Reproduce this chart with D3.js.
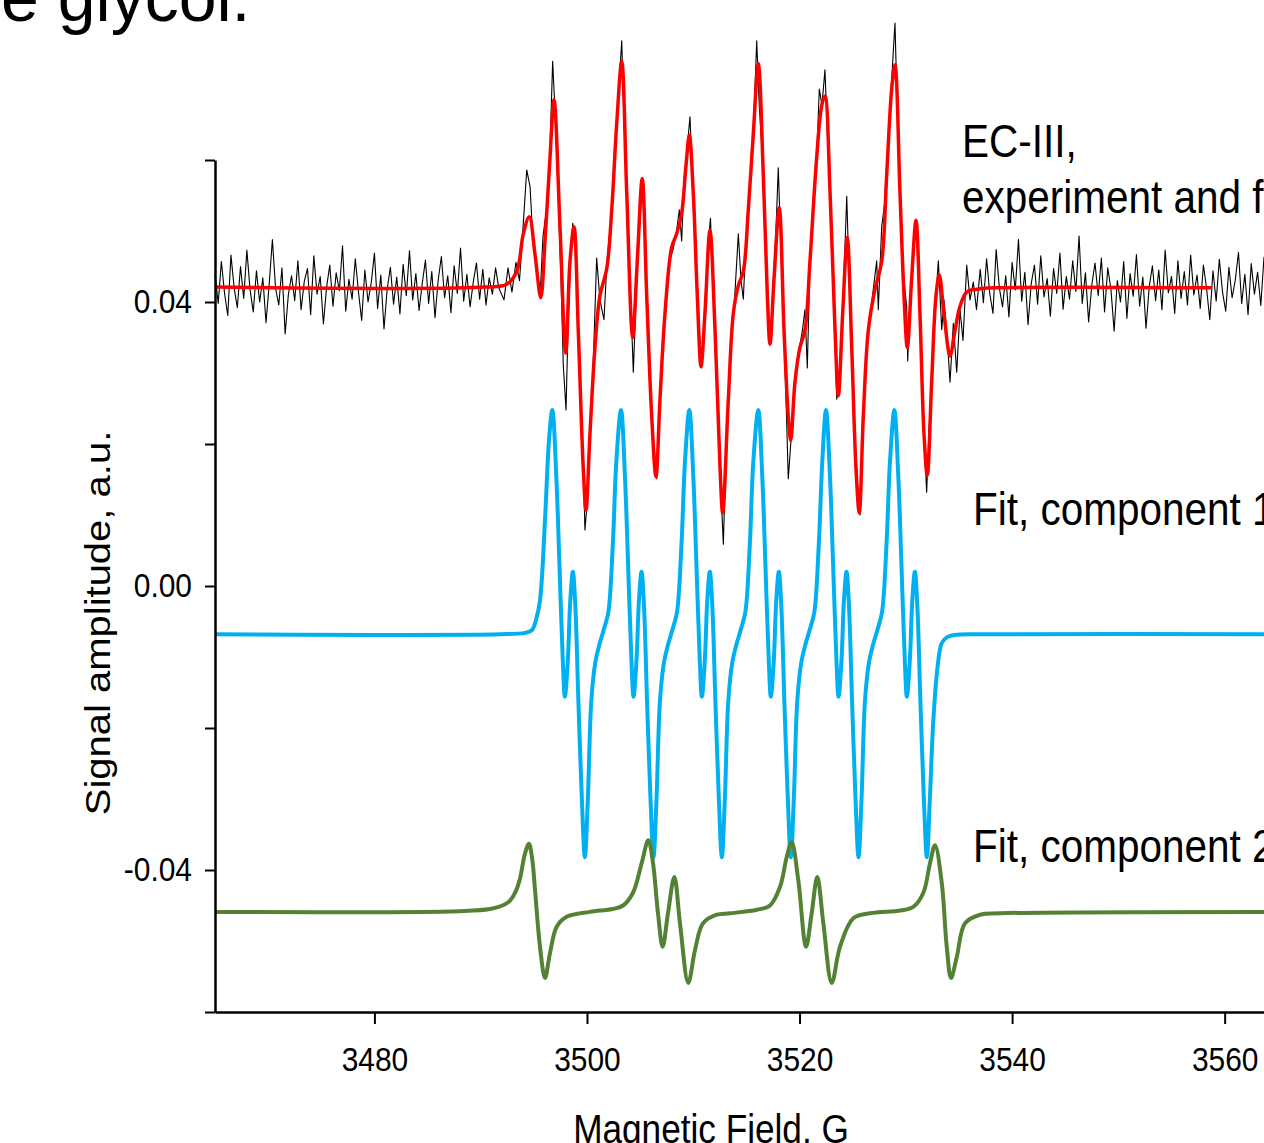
<!DOCTYPE html>
<html lang="en">
<head>
<meta charset="UTF-8">
<title>EC-III spectrum</title>
<script src="https://cdnjs.cloudflare.com/ajax/libs/d3/7.8.5/d3.min.js"></script>
<style>
  body { margin: 0; background: #fff; overflow: hidden; }
  text { font-family: "Liberation Sans", Arial, sans-serif; fill: #000; }
</style>
</head>
<body>
<div id="wrapper"></div>
<script>
// ticks
const xTickValues = [3480, 3500, 3520, 3540, 3560]
const yTickValues = [-0.06, -0.04, -0.02, 0, 0.02, 0.04, 0.06]
const yTickLabelled = [-0.04, 0, 0.04]

// fit, total (red)  [field G, amplitude]
const fitTotal = [
  [3465.00,0.0421],[3490.50,0.0421],[3492.45,0.0425],[3493.39,0.0443],[3494.01,0.0496],[3494.57,0.0520],[3495.11,0.0467],
  [3495.65,0.0406],[3496.05,0.0486],[3496.52,0.0603],[3496.90,0.0685],[3497.46,0.0506],[3498.00,0.0328],
  [3498.40,0.0457],[3498.78,0.0506],[3499.18,0.0360],[3499.65,0.0166],[3499.91,0.0107],[3500.28,0.0214],
  [3500.75,0.0336],[3501.22,0.0409],[3501.86,0.0447],[3502.33,0.0530],[3502.80,0.0652],[3503.27,0.0739],
  [3503.74,0.0554],[3504.30,0.0350],[3504.73,0.0457],[3505.20,0.0574],[3505.62,0.0409],[3506.09,0.0239],
  [3506.49,0.0154],[3506.87,0.0263],[3507.34,0.0384],[3507.97,0.0477],[3508.44,0.0496],[3508.91,0.0525],
  [3509.32,0.0593],[3509.63,0.0635],[3510.00,0.0554],[3510.38,0.0409],[3510.73,0.0309],[3511.10,0.0384],
  [3511.57,0.0501],[3512.05,0.0360],[3512.52,0.0166],[3512.77,0.0103],[3513.30,0.0263],[3513.77,0.0384],
  [3514.24,0.0423],[3514.71,0.0443],[3515.18,0.0530],[3515.65,0.0637],[3516.12,0.0736],[3516.59,0.0579],
  [3516.97,0.0409],[3517.22,0.0341],[3517.60,0.0433],[3518.09,0.0533],[3518.54,0.0360],[3518.94,0.0239],
  [3519.17,0.0205],[3519.57,0.0287],[3520.04,0.0336],[3520.51,0.0360],[3520.98,0.0457],[3521.61,0.0603],
  [3522.08,0.0676],[3522.39,0.0690],[3522.87,0.0554],[3523.34,0.0360],[3523.65,0.0268],[3524.06,0.0384],
  [3524.49,0.0491],[3524.91,0.0336],[3525.31,0.0166],[3525.62,0.0103],[3526.00,0.0239],[3526.47,0.0360],
  [3527.10,0.0418],[3527.73,0.0457],[3528.20,0.0579],[3528.67,0.0700],[3528.98,0.0734],[3529.45,0.0554],
  [3529.83,0.0409],[3530.14,0.0336],[3530.55,0.0433],[3530.96,0.0515],[3531.33,0.0384],[3531.71,0.0214],
  [3532.02,0.0156],[3532.43,0.0287],[3532.84,0.0409],[3533.15,0.0438],[3533.59,0.0384],[3534.16,0.0324],
  [3534.63,0.0360],[3535.10,0.0394],[3535.73,0.0414],[3536.67,0.0418],[3538.50,0.0420],[3558.81,0.0420]
]

// fit, component 1 (blue)
const fitComp1 = [
  [3465.00,-0.0068],[3491.82,-0.0068],[3494.17,-0.0066],[3494.83,-0.0062],[3495.20,-0.0048],[3495.58,-0.0020],
  [3496.05,0.0093],[3496.43,0.0206],
  [3496.74,0.0248],[3497.12,0.0152],[3497.40,0.0034],[3497.73,-0.0107],[3497.92,-0.0156],[3498.20,-0.0104],
  [3498.43,-0.0020],[3498.67,0.0020],[3498.90,-0.0027],[3499.19,-0.0161],[3499.52,-0.0301],[3499.80,-0.0382],
  [3500.08,-0.0301],[3500.41,-0.0161],[3500.79,-0.0107],[3501.16,-0.0083],[3501.63,-0.0059],[3502.01,-0.0037],
  [3502.43,0.0058],[3502.76,0.0175],
  [3503.20,0.0248],[3503.58,0.0152],[3503.86,0.0034],[3504.19,-0.0107],[3504.38,-0.0156],[3504.66,-0.0104],
  [3504.89,-0.0020],[3505.13,0.0020],[3505.36,-0.0027],[3505.65,-0.0161],[3505.98,-0.0301],[3506.26,-0.0382],
  [3506.54,-0.0301],[3506.87,-0.0161],[3507.25,-0.0107],[3507.62,-0.0083],[3508.09,-0.0059],[3508.47,-0.0037],
  [3508.89,0.0058],[3509.22,0.0175],
  [3509.63,0.0248],[3510.01,0.0152],[3510.29,0.0034],[3510.62,-0.0107],[3510.81,-0.0156],[3511.09,-0.0104],
  [3511.32,-0.0020],[3511.56,0.0020],[3511.79,-0.0027],[3512.08,-0.0161],[3512.41,-0.0301],[3512.69,-0.0382],
  [3512.97,-0.0301],[3513.30,-0.0161],[3513.68,-0.0107],[3514.05,-0.0083],[3514.52,-0.0059],[3514.90,-0.0037],
  [3515.32,0.0058],[3515.65,0.0175],
  [3516.12,0.0248],[3516.50,0.0152],[3516.78,0.0034],[3517.11,-0.0107],[3517.30,-0.0156],[3517.58,-0.0104],
  [3517.81,-0.0020],[3518.05,0.0020],[3518.28,-0.0027],[3518.57,-0.0161],[3518.90,-0.0301],[3519.18,-0.0382],
  [3519.46,-0.0301],[3519.79,-0.0161],[3520.17,-0.0107],[3520.54,-0.0083],[3521.01,-0.0059],[3521.39,-0.0037],
  [3521.81,0.0058],[3522.14,0.0175],
  [3522.49,0.0248],[3522.87,0.0152],[3523.15,0.0034],[3523.48,-0.0107],[3523.67,-0.0156],[3523.95,-0.0104],
  [3524.18,-0.0020],[3524.42,0.0020],[3524.65,-0.0027],[3524.94,-0.0161],[3525.27,-0.0301],[3525.55,-0.0382],
  [3525.83,-0.0301],[3526.16,-0.0161],[3526.54,-0.0107],[3526.91,-0.0083],[3527.38,-0.0059],[3527.76,-0.0037],
  [3528.18,0.0058],[3528.51,0.0175],
  [3528.92,0.0248],[3529.30,0.0152],[3529.58,0.0034],[3529.91,-0.0107],[3530.10,-0.0156],[3530.38,-0.0104],
  [3530.61,-0.0020],[3530.85,0.0020],[3531.08,-0.0027],[3531.37,-0.0161],[3531.70,-0.0301],[3531.98,-0.0382],
  [3532.26,-0.0301],[3532.59,-0.0189],[3533.01,-0.0111],[3533.39,-0.0080],[3533.90,-0.0072],[3534.56,-0.0069],
  [3537.00,-0.0068],[3565.00,-0.0068]
]

// fit, component 2 (green)
const fitComp2 = [
  [3465.00,-0.0459],[3488.00,-0.0458],[3490.87,-0.0455],[3492.20,-0.0449],[3492.76,-0.0443],[3493.30,-0.0430],
  [3493.70,-0.0412],[3494.15,-0.0378],[3494.54,-0.0363],[3494.85,-0.0385],[3495.11,-0.0428],
  [3495.58,-0.0508],[3496.05,-0.0552],[3496.52,-0.0517],[3497.15,-0.0480],[3498.09,-0.0466],[3500.28,-0.0459],
  [3502.40,-0.0455],[3503.39,-0.0450],[3504.33,-0.0432],[3505.15,-0.0390],[3505.77,-0.0358],[3506.21,-0.0390],[3506.68,-0.0461],
  [3507.12,-0.0508],[3507.62,-0.0461],[3508.22,-0.0410],[3508.75,-0.0475],[3509.53,-0.0559],[3510.16,-0.0513],
  [3510.92,-0.0475],[3512.21,-0.0463],[3513.46,-0.0461],[3516.00,-0.0456],[3517.22,-0.0450],[3518.16,-0.0424],[3518.79,-0.0382],
  [3519.26,-0.0361],[3519.88,-0.0414],[3520.61,-0.0508],[3521.14,-0.0461],[3521.67,-0.0410],[3522.24,-0.0475],
  [3523.03,-0.0559],[3523.81,-0.0508],[3525.06,-0.0468],[3526.63,-0.0461],[3529.50,-0.0457],[3530.70,-0.0452],[3531.65,-0.0432],
  [3532.28,-0.0390],[3532.75,-0.0365],[3533.38,-0.0418],[3533.85,-0.0508],[3534.25,-0.0552],[3534.79,-0.0523],
  [3535.57,-0.0475],[3536.98,-0.0463],[3538.86,-0.0461],[3565.00,-0.0459]
]

// experiment (black): flat wings on a 0.3 G grid, line region as [field, amplitude]
const expStep = 0.3
const expLeftStart = 3465.0
const expLeft = [
  0.0440,0.0398,0.0457,0.0412,0.0381,0.0466,0.0420,0.0392,0.0450,0.0405,
  0.0473,0.0417,0.0386,0.0444,0.0400,0.0434,0.0371,0.0425,0.0488,0.0419,
  0.0396,0.0448,0.0355,0.0410,0.0437,0.0402,0.0458,0.0389,0.0429,0.0447,
  0.0382,0.0465,0.0411,0.0436,0.0369,0.0421,0.0452,0.0394,0.0441,0.0416,
  0.0479,0.0387,0.0432,0.0404,0.0461,0.0414,0.0374,0.0445,0.0400,0.0427,
  0.0469,0.0391,0.0438,0.0362,0.0418,0.0449,0.0397,0.0435,0.0383,0.0453,
  0.0409,0.0472,0.0403,0.0440,0.0388,0.0426,0.0459,0.0398,0.0443,0.0378,
  0.0431,0.0464,0.0406,0.0437,0.0385,0.0451,0.0412,0.0476,0.0401,0.0439,
  0.0393,0.0428,0.0455,0.0404,0.0446,0.0396,0.0434,0.0411,0.0448,0.0420
]
const expLines = [
  [3492.19,0.0403],[3492.57,0.0448],[3492.94,0.0414],[3493.32,0.0456],[3493.65,0.0430],[3493.98,0.0504],
  [3494.33,0.0586],[3494.64,0.0563],[3494.92,0.0487],[3495.20,0.0456],[3495.58,0.0406],[3495.86,0.0492],
  [3496.24,0.0537],[3496.52,0.0614],[3496.77,0.0739],[3496.99,0.0670],[3497.27,0.0558],[3497.56,0.0431],
  [3497.77,0.0311],[3498.03,0.0248],[3498.21,0.0361],[3498.45,0.0456],[3498.66,0.0511],[3498.87,0.0487],
  [3499.18,0.0361],[3499.44,0.0262],[3499.65,0.0166],[3499.81,0.0079],[3500.00,0.0114],[3500.28,0.0214],
  [3500.57,0.0304],[3500.91,0.0462],[3501.22,0.0403],[3501.60,0.0375],[3501.88,0.0456],[3502.33,0.0530],
  [3502.59,0.0600],[3502.92,0.0685],[3503.27,0.0768],[3503.48,0.0656],[3503.77,0.0544],[3504.05,0.0431],
  [3504.36,0.0301],[3504.61,0.0403],[3504.89,0.0487],[3505.20,0.0572],[3505.46,0.0473],[3505.74,0.0361],
  [3506.09,0.0238],[3506.56,0.0151],[3506.87,0.0269],[3507.15,0.0346],[3507.43,0.0403],[3507.72,0.0456],
  [3508.09,0.0473],[3508.44,0.0501],[3508.69,0.0530],[3508.91,0.0486],[3509.13,0.0572],[3509.41,0.0614],
  [3509.69,0.0661],[3509.98,0.0558],[3510.38,0.0408],[3510.79,0.0307],[3511.10,0.0389],[3511.39,0.0480],
  [3511.62,0.0518],[3511.86,0.0417],[3512.19,0.0304],[3512.52,0.0163],[3512.83,0.0059],[3513.03,0.0163],
  [3513.30,0.0263],[3513.55,0.0346],[3513.83,0.0389],[3514.24,0.0496],[3514.49,0.0431],[3514.71,0.0404],
  [3514.96,0.0487],[3515.24,0.0551],[3515.65,0.0637],[3515.97,0.0768],[3516.21,0.0676],[3516.47,0.0614],
  [3516.75,0.0501],[3516.97,0.0408],[3517.22,0.0339],[3517.50,0.0417],[3517.78,0.0501],[3518.00,0.0589],
  [3518.25,0.0473],[3518.54,0.0361],[3518.94,0.0151],[3519.20,0.0206],[3519.48,0.0262],[3519.76,0.0318],
  [3520.04,0.0339],[3520.28,0.0361],[3520.51,0.0389],[3520.73,0.0307],[3520.98,0.0456],[3521.27,0.0544],
  [3521.61,0.0603],[3521.86,0.0700],[3522.11,0.0677],[3522.39,0.0727],[3522.68,0.0614],[3522.96,0.0523],
  [3523.24,0.0403],[3523.50,0.0263],[3523.76,0.0290],[3524.06,0.0385],[3524.44,0.0549],[3524.65,0.0445],
  [3524.91,0.0335],[3525.22,0.0206],[3525.53,0.0127],[3525.69,0.0100],[3526.00,0.0238],[3526.25,0.0318],
  [3526.54,0.0375],[3526.82,0.0403],[3527.26,0.0458],[3527.41,0.0389],[3527.73,0.0506],[3527.99,0.0537],
  [3528.23,0.0600],[3528.61,0.0699],[3528.98,0.0793],[3529.22,0.0656],[3529.45,0.0555],[3529.73,0.0445],
  [3530.08,0.0394],[3530.18,0.0317],[3530.39,0.0403],[3530.67,0.0473],[3530.96,0.0516],[3531.19,0.0459],
  [3531.43,0.0339],[3531.71,0.0214],[3531.96,0.0132],[3532.18,0.0220],[3532.46,0.0290],[3532.75,0.0389],
  [3533.06,0.0458],[3533.38,0.0361],[3533.59,0.0403],[3533.87,0.0354],[3534.16,0.0287],[3534.47,0.0370],
  [3534.79,0.0301],[3535.10,0.0389],[3535.38,0.0346],[3535.73,0.0452],[3536.04,0.0403],[3536.35,0.0428],
  [3536.65,0.0389]
]
const expRightStart = 3537.0
const expRight = [
  0.0446,0.0399,0.0461,0.0412,0.0384,0.0474,0.0420,0.0393,0.0437,0.0379,
  0.0456,0.0417,0.0488,0.0401,0.0442,0.0368,0.0426,0.0452,0.0397,0.0465,
  0.0407,0.0433,0.0380,0.0447,0.0412,0.0469,0.0390,0.0436,0.0404,0.0458,
  0.0415,0.0493,0.0398,0.0441,0.0372,0.0424,0.0455,0.0409,0.0462,0.0386,
  0.0448,0.0418,0.0359,0.0430,0.0400,0.0457,0.0377,0.0440,0.0408,0.0467,
  0.0394,0.0435,0.0363,0.0421,0.0451,0.0402,0.0445,0.0389,0.0473,0.0413,
  0.0436,0.0384,0.0458,0.0405,0.0443,0.0396,0.0466,0.0410,0.0438,0.0391,
  0.0452,0.0419,0.0375,0.0444,0.0401,0.0460,0.0414,0.0387,0.0449,0.0406,
  0.0431,0.0470,0.0398,0.0439,0.0382,0.0454,0.0411,0.0442,0.0395,0.0463,
  0.0416
]

const labels = [
  { text: 'EC-III,', x: 962, y: 157 },
  { text: 'experiment and fit', x: 962, y: 213 },
  { text: 'Fit, component 1', x: 973, y: 525 },
  { text: 'Fit, component 2', x: 973, y: 862 }
]

function drawChart() {
  const squeeze = 0.88   // the figure's text is a little condensed

  const dimensions = {
    width: 1264,
    height: 1143,
    margin: { top: 160, right: 0, bottom: 131, left: 215 }
  }
  dimensions.boundedHeight = dimensions.height - dimensions.margin.top - dimensions.margin.bottom

  const svg = d3.select('#wrapper')
    .append('svg')
      .attr('width', dimensions.width)
      .attr('height', dimensions.height)
      .style('display', 'block')

  const bounds = svg.append('g')
    .attr('transform', `translate(${dimensions.margin.left},${dimensions.margin.top})`)

  const xScale = d3.scaleLinear()
    .domain([3465, 3565])
    .range([0, 1062.8])

  const yScale = d3.scaleLinear()
    .domain([-0.06, 0.06])
    .range([dimensions.boundedHeight, 0])

  const experiment = [
    ...expLeft.map((v, i) => [expLeftStart + i * expStep, v]),
    ...expLines,
    ...expRight.map((v, i) => [expRightStart + i * expStep, v])
  ]

  const smooth = d3.line()
    .x(d => xScale(d[0]))
    .y(d => yScale(d[1]))
    .curve(d3.curveCatmullRom.alpha(0.5))

  const raw = d3.line()
    .x(d => xScale(d[0]))
    .y(d => yScale(d[1]))

  bounds.append('path')
    .attr('d', raw(experiment))
    .attr('fill', 'none')
    .attr('stroke', '#000')
    .attr('stroke-width', 1.1)
    .attr('stroke-linejoin', 'round')

  bounds.append('path')
    .attr('d', smooth(fitTotal))
    .attr('fill', 'none')
    .attr('stroke', '#ff0000')
    .attr('stroke-width', 3.5)

  bounds.append('path')
    .attr('d', smooth(fitComp1))
    .attr('fill', 'none')
    .attr('stroke', '#00b0f0')
    .attr('stroke-width', 4)

  bounds.append('path')
    .attr('d', smooth(fitComp2))
    .attr('fill', 'none')
    .attr('stroke', '#548235')
    .attr('stroke-width', 4)

  // axes
  const yAxis = bounds.append('g')
    .call(d3.axisLeft(yScale)
      .tickValues(yTickValues)
      .tickSize(10)
      .tickSizeOuter(0)
      .tickPadding(13)
      .tickFormat(d => yTickLabelled.includes(d) ? d.toFixed(2) : ''))
  yAxis.select('.domain').attr('stroke-width', 2.5)
  yAxis.selectAll('.tick line').attr('stroke-width', 2)
  yAxis.selectAll('.tick text')
    .attr('font-size', 34)
    .attr('font-family', '"Liberation Sans", Arial, sans-serif')
    .attr('x', -23 / squeeze)
    .attr('transform', `scale(${squeeze},1)`)

  const xAxis = bounds.append('g')
    .attr('transform', `translate(0,${dimensions.boundedHeight})`)
    .call(d3.axisBottom(xScale)
      .tickValues(xTickValues)
      .tickSize(12)
      .tickSizeOuter(0)
      .tickPadding(23)
      .tickFormat(d3.format('d')))
  xAxis.select('.domain').attr('stroke-width', 2.5)
  xAxis.selectAll('.tick line').attr('stroke-width', 2)
  xAxis.selectAll('.tick text')
    .attr('font-size', 34)
    .attr('font-family', '"Liberation Sans", Arial, sans-serif')
    .attr('transform', `scale(${squeeze},1)`)

  // titles
  svg.append('text')
    .attr('transform', `translate(711,1143) scale(${squeeze},1)`)
    .attr('text-anchor', 'middle')
    .attr('font-size', 40)
    .text('Magnetic Field, G')

  svg.append('text')
    .attr('transform', `translate(110,623) rotate(-90) scale(1,${squeeze})`)
    .attr('text-anchor', 'middle')
    .attr('font-size', 40)
    .text('Signal amplitude, a.u.')

  svg.append('text')
    .attr('x', 1)
    .attr('y', 21)
    .attr('font-size', 68)
    .text('e glycol.')

  svg.selectAll('.series-label')
    .data(labels)
    .join('text')
      .attr('class', 'series-label')
      .attr('transform', d => `translate(${d.x},${d.y}) scale(${squeeze},1)`)
      .attr('font-size', 46)
      .text(d => d.text)
}

drawChart()
</script>
</body>
</html>
